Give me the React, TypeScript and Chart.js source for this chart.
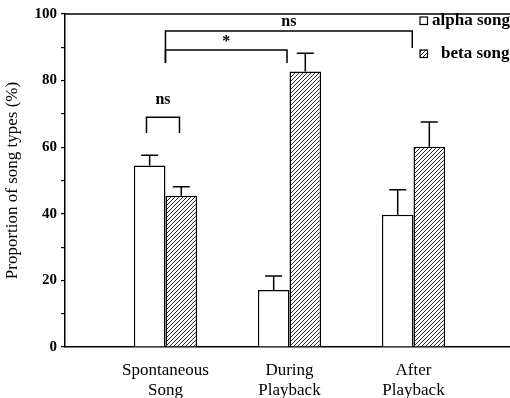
import React, { useEffect, useRef } from "react";
import { Chart, registerables } from "chart.js";

Chart.register(...registerables);

// ---- data ----
const categories: string[][] = [["Spontaneous", "Song"], ["During", "Playback"], ["After", "Playback"]];
const categoryPositions = [1, 2, 3];
const alphaValues = [54.5, 17.1, 39.7];
const betaValues = [45.4, 82.7, 60.1];
const alphaErrTop = [57.6, 21.3, 47.2];
const betaErrTop = [48.1, 88.2, 67.6];
const seriesLabels = ["alpha song", "beta song"];
const yTicksMajor = [0, 20, 40, 60, 80, 100];
// significance brackets: [xFrom, xTo, yLine, yLegLeft, yLegRight, label]
const bracketFrom = [0.847, 1.0, 1.0];
const bracketTo = [1.113, 1.98, 2.99];
const bracketLine = [69, 89.2, 94.9];
const bracketLegLeft = [64.3, 85.3, 85.3];
const bracketLegRight = [64.3, 85.3, 89.8];
const bracketLabel = ["ns", "*", "ns"];

const SERIF = "'Liberation Serif', 'DejaVu Serif', serif";

function makeHatch(): CanvasPattern | string {
  const c = document.createElement("canvas");
  const s = 4;
  c.width = s;
  c.height = s;
  const g = c.getContext("2d");
  if (!g) return "#999";
  g.fillStyle = "#ffffff";
  g.fillRect(0, 0, s, s);
  g.strokeStyle = "#2a2a2a";
  g.lineWidth = 1;
  g.beginPath();
  g.moveTo(-1, s + 1);
  g.lineTo(s + 1, -1);
  g.moveTo(-1, 1);
  g.lineTo(1, -1);
  g.moveTo(s - 1, s + 1);
  g.lineTo(s + 1, s - 1);
  g.stroke();
  const p = g.createPattern(c, "repeat");
  return p || "#999";
}

const extrasPlugin = {
  id: "extras",
  afterDatasetsDraw(chart: any) {
    const ctx = chart.ctx;
    const x = chart.scales.x;
    const y = chart.scales.y;
    const area = chart.chartArea;
    ctx.save();
    ctx.strokeStyle = "#000";
    ctx.lineWidth = 1.5;
    // top border
    ctx.beginPath();
    ctx.moveTo(area.left, area.top);
    ctx.lineTo(chart.width, area.top);
    ctx.stroke();
    // error bars
    const errs = [alphaErrTop, betaErrTop];
    chart.data.datasets.forEach((_: any, di: number) => {
      const meta = chart.getDatasetMeta(di);
      meta.data.forEach((el: any, i: number) => {
        const top = y.getPixelForValue(errs[di][i]);
        ctx.beginPath();
        ctx.moveTo(el.x, el.y);
        ctx.lineTo(el.x, top);
        ctx.moveTo(el.x - 8.5, top);
        ctx.lineTo(el.x + 8.5, top);
        ctx.stroke();
      });
    });
    // brackets
    for (let i = 0; i < bracketLabel.length; i++) {
      const x1 = x.getPixelForValue(bracketFrom[i]);
      const x2 = x.getPixelForValue(bracketTo[i]);
      const yl = y.getPixelForValue(bracketLine[i]);
      const y1 = y.getPixelForValue(bracketLegLeft[i]);
      const y2 = y.getPixelForValue(bracketLegRight[i]);
      ctx.beginPath();
      ctx.moveTo(x1, y1);
      ctx.lineTo(x1, yl);
      ctx.lineTo(x2, yl);
      ctx.lineTo(x2, y2);
      ctx.stroke();
      ctx.fillStyle = "#000";
      ctx.textAlign = "center";
      const cx = (x1 + x2) / 2;
      if (bracketLabel[i] === "*") {
        ctx.font = "bold 16px " + SERIF;
        ctx.textBaseline = "middle";
        ctx.fillText("*", cx, yl - 8);
      } else {
        ctx.font = "bold 16px " + SERIF;
        ctx.textBaseline = "alphabetic";
        ctx.fillText(bracketLabel[i], cx, yl - (i === 0 ? 13 : 5));
      }
    }
    // legend
    ctx.font = "bold 17px " + SERIF;
    ctx.textAlign = "left";
    ctx.textBaseline = "alphabetic";
    ctx.lineWidth = 1.2;
    const legendY = [25, 58];
    const legendTextX = [432, 441];
    chart.data.datasets.forEach((ds: any, di: number) => {
      const by = legendY[di] - 8;
      ctx.fillStyle = ds.backgroundColor;
      ctx.fillRect(420, by, 7.5, 7.5);
      ctx.strokeRect(420, by, 7.5, 7.5);
      ctx.fillStyle = "#000";
      ctx.fillText(ds.label, legendTextX[di], legendY[di]);
    });
    ctx.restore();
  },
};

export default function App() {
  const ref = useRef<HTMLCanvasElement | null>(null);
  useEffect(() => {
    if (!ref.current) return;
    const hatch = makeHatch();
    const chart = new Chart(ref.current, {
      type: "bar",
      data: {
        datasets: [
          {
            label: seriesLabels[0],
            data: alphaValues.map((v, i) => ({ x: categoryPositions[i], y: v })) as any,
            backgroundColor: "#ffffff",
            borderColor: "#000",
            borderWidth: 1.5,
            categoryPercentage: 0.51,
            barPercentage: 1,
          },
          {
            label: seriesLabels[1],
            data: betaValues.map((v, i) => ({ x: categoryPositions[i], y: v })) as any,
            backgroundColor: hatch as any,
            borderColor: "#000",
            borderWidth: 1.5,
            categoryPercentage: 0.51,
            barPercentage: 1,
          },
        ],
      },
      options: {
        animation: false,
        responsive: false,
        devicePixelRatio: 1,
        layout: { padding: { left: 0, right: 0, top: 14, bottom: 0 } },
        plugins: { legend: { display: false }, tooltip: { enabled: false } },
        scales: {
          x: {
            type: "linear",
            offset: false,
            min: 0.19,
            max: 3.778,
            afterBuildTicks: (s: any) => {
              s.ticks = categoryPositions.map((v) => ({ value: v }));
            },
            afterFit: (s: any) => {
              s.height = 51;
            },
            ticks: {
              autoSkip: false,
              maxRotation: 0,
              padding: 6,
              color: "#000",
              font: { family: SERIF, size: 17, lineHeight: 1.15 },
              callback: (v: any) => {
                const idx = categoryPositions.indexOf(Number(v));
                return idx >= 0 ? categories[idx] : "";
              },
            },
            grid: { display: false },
            border: { display: true, color: "#000", width: 1.5 },
          },
          y: {
            min: 0,
            max: 100,
            afterFit: (s: any) => {
              s.width = 65;
            },
            ticks: {
              stepSize: 10,
              padding: 4,
              color: "#000",
              font: { family: SERIF, size: 15, weight: "bold" },
              callback: (v: any) => (yTicksMajor.includes(Number(v)) ? String(v) : ""),
            },
            grid: { drawOnChartArea: false, drawTicks: true, tickLength: 4, color: "#000", lineWidth: 1.2 },
            border: { display: true, color: "#000", width: 1.5 },
            title: {
              display: true,
              text: "Proportion of song types (%)",
              color: "#000",
              font: { family: SERIF, size: 17 },
              padding: { top: 2, bottom: 0 },
            },
          },
        },
      },
      plugins: [extrasPlugin],
    });
    return () => chart.destroy();
  }, []);
  return (
    <div style={{ position: "absolute", left: 0, top: 0, width: 510, height: 398, background: "#fff" }}>
      <canvas ref={ref} width={510} height={398} />
    </div>
  );
}
